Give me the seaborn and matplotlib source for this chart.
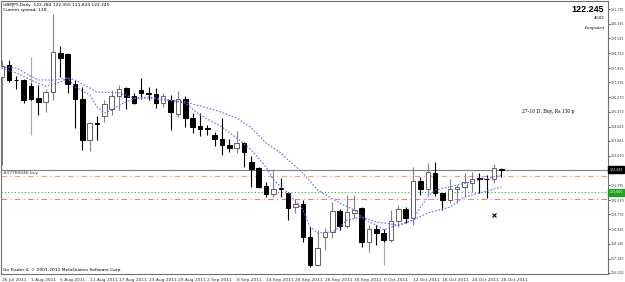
import numpy as np
import matplotlib
matplotlib.use("Agg")
import matplotlib.pyplot as plt
import matplotlib.transforms as mtransforms
import seaborn as sns

# ==========================
# data
# ==========================
symbol_info = "GBPJPY,Daily  122.284 122.355 121.824 122.245"
spread_info = "Current spread: 118"

date_labels = ["26 Jul 2011", "1 Aug 2011", "5 Aug 2011", "11 Aug 2011", "17 Aug 2011",
               "23 Aug 2011", "29 Aug 2011", "2 Sep 2011", "8 Sep 2011", "14 Sep 2011",
               "20 Sep 2011", "26 Sep 2011", "30 Sep 2011", "6 Oct 2011", "12 Oct 2011",
               "18 Oct 2011", "24 Oct 2011", "28 Oct 2011"]
label_every = 4

open_ = [127.396, 128.062, 127.257, 127.230, 126.897, 126.231, 126.009, 126.564, 128.728, 128.673,
         127.008, 126.176, 123.900, 124.844, 125.232, 125.621, 126.342, 126.786, 126.342, 126.675,
         126.509, 126.453, 125.954, 126.120, 125.343, 126.176, 125.121, 124.677, 124.566, 124.178,
         123.956, 123.623, 123.456, 123.734, 122.679, 122.346, 121.347, 120.903, 121.236, 120.959,
         120.182, 120.348, 118.517, 116.963, 118.517, 118.794, 119.960, 119.127, 119.849, 120.126,
         118.239, 118.961, 118.739, 118.350, 119.405, 120.071, 119.571, 121.625, 121.181, 122.069,
         120.959, 120.570, 121.181, 121.292, 121.514, 121.791, 121.736, 121.736, 122.284]
high = [128.340, 128.340, 127.452, 127.285, 127.063, 126.952, 126.731, 130.892, 129.117, 128.728,
        127.230, 126.841, 124.900, 125.232, 126.120, 126.675, 126.952, 126.841, 126.509, 127.341,
        126.841, 126.786, 126.509, 126.398, 126.620, 126.342, 125.399, 125.399, 124.733, 124.344,
        125.121, 123.956, 124.400, 123.789, 123.012, 122.402, 121.569, 122.291, 121.791, 121.014,
        120.626, 120.570, 119.072, 118.905, 119.016, 120.459, 120.071, 120.848, 120.848, 120.182,
        119.183, 119.183, 118.961, 120.015, 120.293, 120.182, 122.402, 121.847, 122.624, 122.679,
        120.980, 121.736, 121.403, 122.069, 122.124, 122.069, 121.958, 122.569, 122.355]
low = [122.513, 127.119, 126.731, 125.954, 126.120, 125.288, 125.454, 126.120, 127.396, 126.509,
       124.566, 123.345, 123.290, 123.900, 124.899, 125.288, 125.565, 125.621, 125.898, 126.176,
       126.120, 125.676, 125.732, 124.455, 125.177, 124.622, 124.289, 124.122, 124.178, 123.567,
       123.068, 123.234, 123.179, 122.402, 121.292, 121.236, 120.737, 120.737, 120.737, 119.460,
       119.849, 118.239, 116.852, 116.930, 117.795, 118.461, 118.905, 119.016, 119.571, 117.962,
       117.685, 118.073, 118.239, 118.239, 119.072, 119.294, 119.183, 120.848, 120.848, 120.792,
       120.015, 120.404, 120.404, 120.737, 121.014, 120.959, 120.681, 121.514, 121.824]
close = [128.007, 127.230, 127.213, 126.120, 126.176, 126.009, 126.564, 128.784, 128.451, 127.008,
         126.176, 123.900, 124.844, 124.788, 125.898, 126.342, 126.731, 126.287, 125.954, 126.509,
         126.453, 125.954, 126.342, 125.454, 126.176, 125.121, 124.622, 124.511, 124.511, 123.956,
         123.623, 123.456, 123.734, 123.234, 122.291, 121.292, 120.903, 121.181, 121.181, 120.126,
         120.348, 118.517, 116.963, 117.906, 118.794, 119.960, 119.127, 119.904, 120.015, 118.239,
         118.961, 118.739, 118.350, 119.405, 120.071, 119.571, 121.625, 121.181, 122.124, 120.959,
         120.570, 121.181, 121.292, 121.569, 121.736, 121.736, 121.720, 122.346, 122.245]

# grey spikes drawn through two of the bars
spike_idx = [4, 52]
spike_hi = [128.506, 118.350]
spike_lo = [124.178, 116.963]

# moving averages (bar index, price)
fast_idx = [0, 2, 4, 6, 8, 9, 10, 12, 13, 14, 15, 16, 18, 20, 22, 25, 27, 30, 32, 34, 36, 37,
            39, 41, 42, 43, 45, 46, 47, 49, 50, 51, 52, 53, 55, 56, 57, 58, 59, 61, 62, 65, 67, 68]
fast_val = [127.90, 127.62, 127.23, 126.88, 127.12, 127.34, 126.84, 126.40, 125.73, 125.40,
            125.56, 125.84, 126.18, 126.29, 126.18, 125.95, 125.29, 124.62, 124.01, 123.35,
            122.40, 121.68, 120.96, 120.02, 119.07, 118.74, 118.79, 119.07, 119.46, 119.63,
            119.35, 119.18, 118.91, 119.07, 119.29, 119.46, 120.18, 120.74, 121.13, 121.29,
            121.40, 121.68, 121.85, 121.96]
slow_idx = [0, 2, 4, 5, 7, 9, 10, 12, 13, 16, 18, 20, 22, 25, 29, 32, 34, 36, 38, 39, 41, 43,
            46, 48, 49, 51, 54, 56, 58, 61, 63, 65, 68]
slow_val = [127.95, 127.90, 127.45, 127.23, 127.23, 127.34, 127.23, 126.80, 126.56, 126.51,
            126.23, 126.23, 126.12, 126.01, 125.57, 125.12, 124.57, 123.73, 123.18, 122.79,
            122.07, 121.13, 120.40, 120.02, 119.63, 119.35, 119.18, 119.46, 119.85, 120.18,
            120.74, 120.96, 121.29]

bid_price = 122.245
order_open = 121.902
order_label = "#17780046 buy"
green_level = 121.000
stop_level = 120.609
mark_idx, mark_price = 67, 119.74
note_text = "27-10 D: Buy, Rs 130 p"
ytick_vals = [131.170, 130.345, 129.545, 128.720, 127.895, 127.095, 126.270, 125.470, 124.645,
              123.845, 123.020, 121.395, 120.570, 119.770, 118.945, 118.145, 117.320, 116.520]

# ==========================
# style
# ==========================
sns.set_style("white")
plt.rcParams["font.family"] = ["Liberation Sans Narrow", "DejaVu Sans"]
small = 3.2
axis_small = 2.3

W, H = 625, 282
fig = plt.figure(figsize=(W / 100, H / 100), dpi=100)
ax = fig.add_axes([1 / W, 8 / H, 607 / W, 273 / H])
ax.set_xlim(-0.07, 82.52)
ax.set_ylim(116.464, 131.614)

n = len(close)
idx = np.arange(n)
o = np.array(open_)
c = np.array(close)
bull = c > o

# ==========================
# levels
# ==========================
ax.axhline(bid_price, color="#808080", lw=0.8, zorder=1)
ax.axhline(order_open, color="#f4a080", lw=0.8, ls=(0, (5, 3, 1, 3)), zorder=1)
ax.axhline(green_level, color="#20b020", lw=0.8, ls=(0, (1, 2)), zorder=1)
ax.axhline(stop_level, color="#f08060", lw=0.8, ls=(0, (5, 3, 1, 3)), zorder=1)

# ==========================
# candles
# ==========================
ax.vlines(spike_idx, spike_lo, spike_hi, color="#a8a8a8", lw=0.8, zorder=2)
wick_col = np.where(bull, "#808080", "#000000")
ax.vlines(idx, low, high, colors=wick_col, lw=0.8, zorder=3)
body_lo = np.minimum(o, c)
body_h = np.maximum(np.abs(c - o), 0.02)
ax.bar(idx[bull], body_h[bull], bottom=body_lo[bull], width=0.62,
       color="white", edgecolor="#606060", linewidth=0.7, zorder=4)
ax.bar(idx[~bull], body_h[~bull], bottom=body_lo[~bull], width=0.62,
       color="black", edgecolor="black", linewidth=0.7, zorder=4)

# ==========================
# moving averages
# ==========================
sns.lineplot(x=slow_idx, y=slow_val, ax=ax, color="#6a6aff", lw=0.8,
             linestyle=(0, (1.5, 1.5)), zorder=5)
sns.lineplot(x=fast_idx, y=fast_val, ax=ax, color="#6a6aff", lw=0.8,
             linestyle=(0, (1.5, 1.5)), zorder=5)

ax.plot([mark_idx], [mark_price], marker="x", ms=2.5, mew=0.8, color="black", zorder=6)

# ==========================
# axes
# ==========================
for s in ax.spines.values():
    s.set_color("#707070")
    s.set_linewidth(0.8)

ax.yaxis.tick_right()
ax.set_yticks(ytick_vals)
ax.set_yticklabels([f"{v:.3f}" for v in ytick_vals])
ax.tick_params(axis="y", labelsize=axis_small, colors="#303030", length=1.5, width=0.6, pad=0.4)

xt = list(range(0, n, label_every))
ax.set_xticks(xt)
ax.set_xticklabels(date_labels, ha="left")
ax.tick_params(axis="x", labelsize=small, colors="#303030", length=2, width=0.6, pad=1)
ax.set_xlabel("")
ax.set_ylabel("")

# ==========================
# texts
# ==========================
trans = mtransforms.blended_transform_factory(ax.transAxes, ax.transData)
ax.text(1.002, bid_price, f"{bid_price:.3f}", transform=trans, ha="left", va="center",
        fontsize=axis_small, color="white",
        bbox=dict(facecolor="black", edgecolor="black", pad=1.0))
ax.text(1.002, green_level, f"{green_level:.3f}", transform=trans, ha="left", va="center",
        fontsize=axis_small, color="white",
        bbox=dict(facecolor="#20a020", edgecolor="#20a020", pad=1.0))
ax.text(0.004, order_open + 0.05, order_label, transform=trans, ha="left", va="bottom",
        fontsize=small, color="#303030")

fig.text(3 / W, 1 - 5 / H, symbol_info, fontsize=small, color="black", va="center")
fig.text(3 / W, 1 - 10 / H, spread_info, fontsize=small, color="black", va="center")
fig.text(3 / W, 1 - 270 / H, "Go Trader 4, \u00a9 2001-2011 MetaQuotes Software Corp.",
         fontsize=small, color="black", va="center")

fig.text(604 / W, 1 - 9 / H, f"{bid_price:.3f}", fontsize=6.5, fontweight="bold",
         family="Liberation Sans", ha="right", va="center", color="black")
fig.text(604 / W, 1 - 18 / H, "48:02", fontsize=3.4, ha="right", va="center",
         family="Liberation Serif", color="black")
fig.text(604 / W, 1 - 28 / H, "Loopsurtt", fontsize=3.8, ha="right", va="center",
         family="Liberation Serif", style="italic", color="black")
fig.text(522 / W, 1 - 111 / H, note_text, fontsize=4.0, ha="left", va="center",
         family="Liberation Serif", color="black")

plt.savefig("out.png", dpi=100)
